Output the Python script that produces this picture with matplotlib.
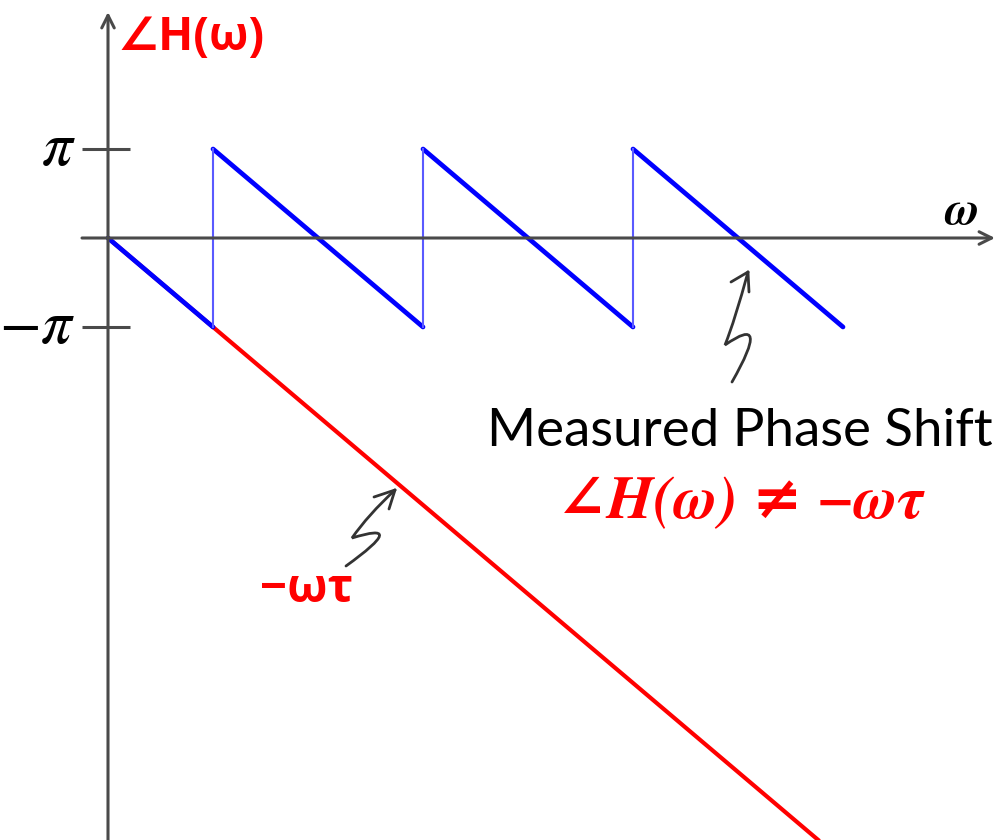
import numpy as np
import matplotlib
matplotlib.use("Agg")
import matplotlib.pyplot as plt
from matplotlib.path import Path
from matplotlib.patches import PathPatch
from matplotlib.transforms import Affine2D

# Wrapped (measured) phase of a pure delay, tau = 1: breakpoints in omega (units of pi)
omega_ramp_start = [0, 1, 3, 5]      # start of each descending ramp
omega_ramp_end = [1, 3, 5, 7]        # end of each descending ramp
phase_ramp_start = [0, 1, 1, 1]      # phase at ramp start (units of pi)
phase_ramp_end = [-1, -1, -1, -1]    # phase at ramp end (units of pi)
omega_jumps = [1, 3, 5]              # wrap points where phase jumps -pi -> +pi

# True linear phase -omega*tau
omega_linear = [0, 9]
tau = 1.0

ytick_values = [1, -1]
ytick_labels = [r"$\pi$", r"$-\pi$"]

W, H = 998, 840
fig = plt.figure(figsize=(W / 100, H / 100), dpi=100)
ax = fig.add_axes([0, 0, 1, 1])
ax.set_axis_off()

# origin at pixel (108, 238); pi = 105 px horizontally, 89 px vertically
ox, oy, sx, sy = 108, 238, 105, 89
ax.set_xlim(-ox / sx * np.pi, (W - ox) / sx * np.pi)
ax.set_ylim(-(H - oy) / sy * np.pi, oy / sy * np.pi)

# pixel coordinates measured from top-left corner
px = Affine2D().scale(1 / W, -1 / H).translate(0, 1) + fig.transFigure

axis_col = "#4a4a4a"
# axes with arrow heads
ax.annotate("", xy=(995, oy), xytext=(82, oy), xycoords=px, textcoords=px,
            arrowprops=dict(arrowstyle="->,head_length=0.9,head_width=0.45",
                            color=axis_col, lw=2.2, shrinkA=0, shrinkB=0))
ax.annotate("", xy=(ox, 12), xytext=(ox, H + 2), xycoords=px, textcoords=px,
            arrowprops=dict(arrowstyle="->,head_length=0.9,head_width=0.45",
                            color=axis_col, lw=2.2, shrinkA=0, shrinkB=0))

# tick marks and labels at +/- pi
for v, lab in zip(ytick_values, ytick_labels):
    ax.plot([-26 / sx * np.pi, 22 / sx * np.pi], [v * np.pi, v * np.pi],
            color=axis_col, lw=2.2, solid_capstyle="butt")
    ax.text(-32 / sx * np.pi, v * np.pi, lab, ha="right", va="center",
            fontsize=44, color="black", math_fontfamily="stix")

# linear phase line
w_lin = np.array(omega_linear) * np.pi
ax.plot(w_lin, -w_lin * tau, color="#ff0000", lw=3.0, solid_capstyle="butt")

# wrapped phase ramps
for w0, w1, p0, p1 in zip(omega_ramp_start, omega_ramp_end,
                          phase_ramp_start, phase_ramp_end):
    ax.plot([w0 * np.pi, w1 * np.pi], [p0 * np.pi, p1 * np.pi],
            color="#0000ff", lw=3.4, solid_capstyle="round")
for wj in omega_jumps:
    ax.plot([wj * np.pi, wj * np.pi], [-np.pi, np.pi],
            color="#5a5aff", lw=1.5)

# axis labels
ax.text(117, 38, "\u2220H(\u03c9)", transform=px, ha="left", va="center",
        fontsize=33, fontweight="bold", color="#ff0000",
        family=["Open Sans", "DejaVu Sans"])
ax.text(962, 212, "\u03c9", transform=px, ha="center", va="center",
        fontsize=34, fontweight="bold", style="italic", color="black",
        family=["STIXGeneral"])

# annotations
ax.text(487, 432, "Measured Phase Shift", transform=px, ha="left",
        va="center", fontsize=38, color="black", family=["Lato"])
ax.text(740, 503, "\u2220H(\u03c9) \u2260 \u2212\u03c9\u03c4", transform=px,
        ha="center", va="center", fontsize=43, fontweight="bold",
        style="italic", color="#ff0000",
        family=["STIXGeneral", "DejaVu Serif", "DejaVu Sans"])
ax.text(307, 590, "\u2212\u03c9\u03c4", transform=px, ha="center",
        va="center", fontsize=34, fontweight="bold", color="#ff0000",
        family=["Open Sans", "DejaVu Sans"])


def squiggle(tail, c1, mid, c2, tip, arm1, arm2):
    verts = [tail, c1, mid, c2, tip]
    codes = [Path.MOVETO, Path.CURVE3, Path.CURVE3, Path.CURVE3, Path.CURVE3]
    ax.add_patch(PathPatch(Path(verts, codes), transform=px, fill=False,
                           edgecolor="#333333", lw=2.0, capstyle="round"))
    for arm in (arm1, arm2):
        ax.plot([arm[0], tip[0]], [arm[1], tip[1]], transform=px,
                color="#333333", lw=2.0, solid_capstyle="round")


squiggle((732, 382), (772, 312), (725, 345), (735, 320), (748, 272),
         (731, 282), (749, 292))
squiggle((346, 566), (410, 520), (352, 538), (368, 515), (395, 490),
         (374, 497), (389, 509))

fig.savefig("out.png", dpi=100)
